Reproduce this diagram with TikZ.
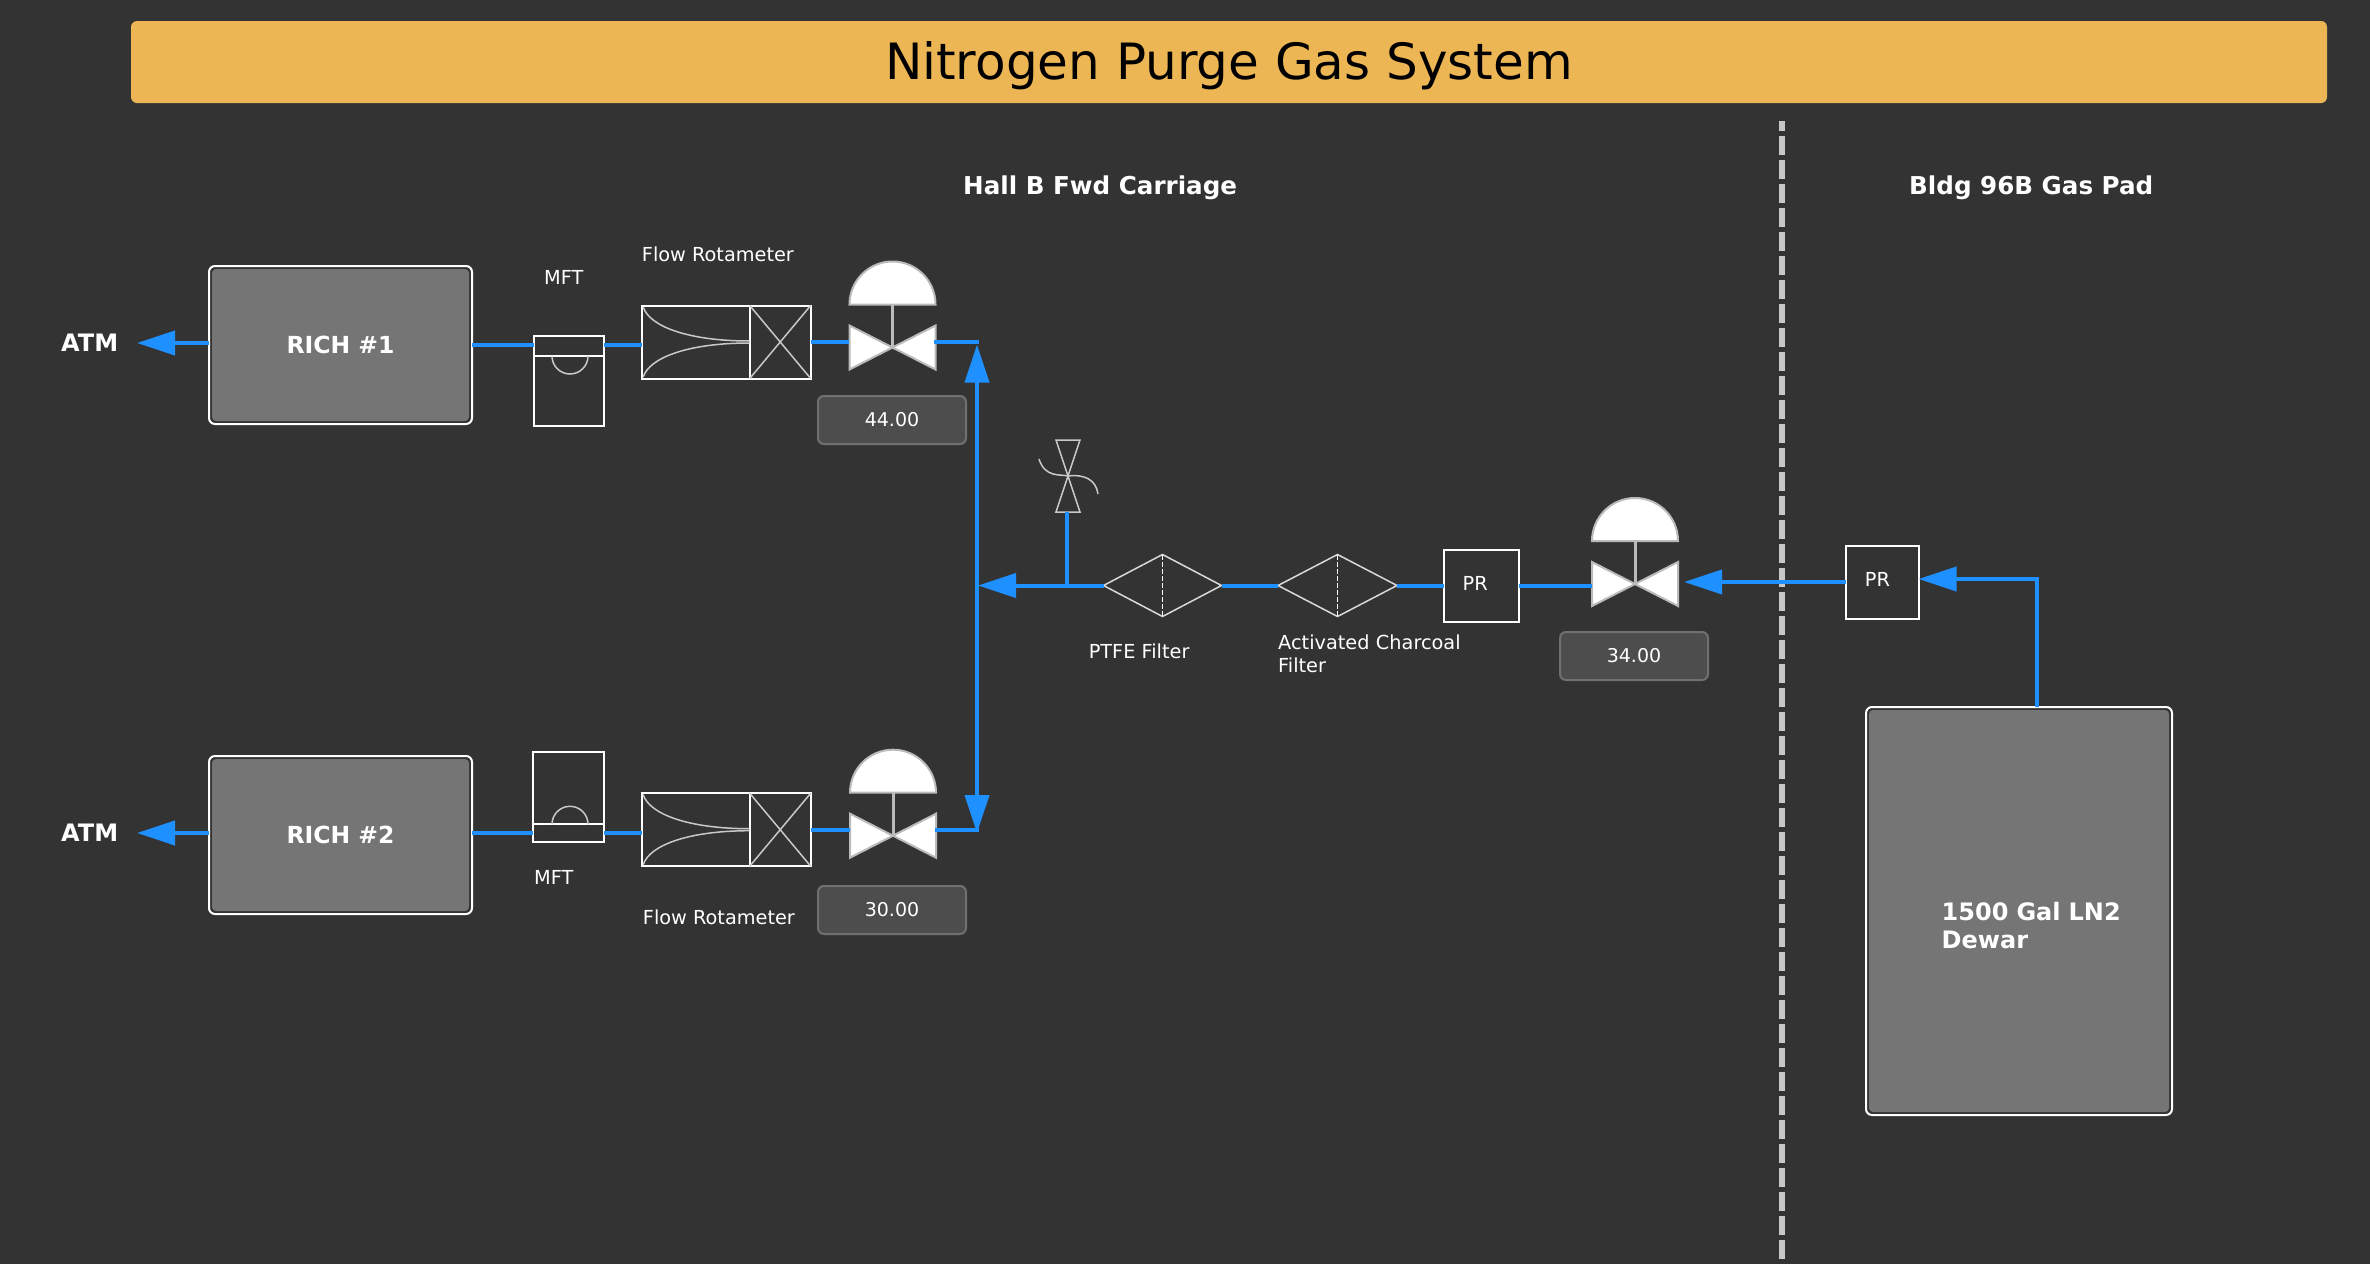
\documentclass[tikz,border=0pt]{standalone}
\usepackage{fontspec}
\setmainfont{DejaVu Sans}
\usetikzlibrary{arrows.meta,shapes.geometric}
\definecolor{panelbg}{HTML}{333333}
\definecolor{banner}{HTML}{EDB655}
\definecolor{flowblue}{HTML}{1E90FF}
\definecolor{tankgrey}{HTML}{757575}
\definecolor{readout}{HTML}{4D4D4D}
\definecolor{readedge}{HTML}{707070}
\definecolor{valveedge}{HTML}{BBBBBB}
\tikzset{
  flow/.style={draw=flowblue,line width=4pt},
  flowtip/.style={flow,-{Triangle[length=38pt,width=24pt]}},
  tank/.style={draw=white,line width=2pt,rounded corners=6pt,inner sep=0pt,outer sep=0pt},
  tankfill/.style={fill=tankgrey,rounded corners=4pt,inner sep=0pt,outer sep=0pt},
  instr/.style={draw=white,line width=2pt,inner sep=0pt,outer sep=0pt},
  thin gear/.style={draw=valveedge!80!white,line width=1.5pt},
  filter/.style={shape=diamond,draw=white!85!black,line width=1.5pt,minimum height=62pt,inner sep=0pt,outer sep=0pt},
  readbox/.style={draw=readedge,fill=readout,line width=2pt,rounded corners=6pt,minimum width=148pt,minimum height=48pt,inner sep=0pt,outer sep=0pt,text=white,font=\fontsize{19}{22}\selectfont},
  txt/.style={anchor=base west,text=white,inner sep=0pt,font=\fontsize{19.3}{23}\selectfont},
  boldtxt/.style={anchor=base west,text=white,inner sep=0pt,font=\fontsize{24.6}{28}\selectfont\bfseries},
  vbody/.style={fill=white,draw=valveedge,line width=2pt,line join=miter},
}
\begin{document}
\begin{tikzpicture}[x=1pt,y=-1pt]
  \useasboundingbox (0,0) rectangle (2370,1264);
  \fill[panelbg] (0,0) rectangle (2370,1264);
  % banner and headings
  \node (banner) [fill=banner,rounded corners=6pt,minimum width=2196pt,minimum height=82pt,inner sep=0pt,font=\fontsize{50}{60}\selectfont,text=black,text height=34pt,text depth=0pt] at (1229,62) {Nitrogen Purge Gas System};
  \node (hall) [boldtxt] at (963,194) {Hall B Fwd Carriage};
  \node (bldg) [boldtxt] at (1909,194) {Bldg 96B Gas Pad};
  \draw[draw=white!78!black,line width=6pt,dash pattern=on 19.5pt off 4.5pt,dash phase=9.5pt] (1782,121) -- (1782,1264);
  % tanks
  \foreach \n/\y in {1/345,2/835}{
    \node (richfill\n) [tankfill,minimum width=257pt,minimum height=152pt] at (340.5,\y) {};
    \node (rich\n) [tank,minimum width=263pt,minimum height=158pt,text=white,font=\fontsize{23.5}{28}\selectfont\bfseries] at (340.5,\y) {RICH \#\n};
  }
  \node (dewarfill) [tankfill,minimum width=300pt,minimum height=402pt] at (2019,911) {};
  \node (dewar) [tank,minimum width=306pt,minimum height=408pt] at (2019,911) {};
  \node (dewartxt) [boldtxt,align=left,text width=200pt,anchor=north west,font=\fontsize{24}{27.7}\selectfont\bfseries] at (1941.5,902) {1500 Gal LN2\\Dewar};
  \node (atm1) [boldtxt,font=\fontsize{24}{28}\selectfont\bfseries] at (61,351) {ATM};
  \node (atm2) [boldtxt,font=\fontsize{24}{28}\selectfont\bfseries] at (61,841) {ATM};
  % flow meters
  \node (mft1) [instr,minimum width=70.5pt,minimum height=90pt] at (568.8,381) {};
  \draw[instr] (533.5,356) -- (604,356);
  \draw[thin gear] (552,356) arc[start angle=180,end angle=360,x radius=18pt,y radius=18pt];
  \node (mft2) [instr,minimum width=71pt,minimum height=90.5pt] at (568.8,797) {};
  \draw[instr] (533.5,824.3) -- (604,824.3);
  \draw[thin gear] (552,824.3) arc[start angle=180,end angle=0,x radius=18pt,y radius=18pt];
  \foreach \n/\y in {1/342,2/829.7}{
    \begin{scope}[shift={(641.7,\y)}]
      \node (rot\n) [instr,minimum width=169pt,minimum height=73pt,anchor=west] at (0,0) {};
      \draw[instr] (108,-36.5) -- (108,36.5);
      \draw[thin gear] (108,-36.5) -- (169,36.5) (108,36.5) -- (169,-36.5);
      \draw[thin gear] (1.5,-35) .. controls (8,-15) and (48,-1) .. (108,-1);
      \draw[thin gear] (1.5,35) .. controls (8,15) and (48,1) .. (108,1);
    \end{scope}
  }
  % control valves
  \foreach \n/\x/\y/\val in {1/892.5/347.5/44.00,2/893/835.7/30.00,3/1635/584/34.00}{
    \begin{scope}[shift={(\x,\y)}]
      \node (valve\n) [minimum width=87pt,minimum height=45pt,inner sep=0pt,outer sep=0pt] at (0,0) {};
      \draw[draw=valveedge,line width=3pt] (0,0) -- (0,-44);
      \draw[vbody] (-43,-43) arc[start angle=180,end angle=0,x radius=43pt,y radius=43pt] -- cycle;
      \draw[vbody] (-43,-22) -- (0,0) -- (-43,22) -- cycle;
      \draw[vbody] (43,-22) -- (0,0) -- (43,22) -- cycle;
    \end{scope}
  }
  \node (read1) [readbox] at (892,420) {44.00};
  \node (read2) [readbox] at (892,910) {30.00};
  \node (read3) [readbox] at (1634,656) {34.00};
  % vent valve
  \node (vent) [minimum width=24pt,minimum height=72pt,inner sep=0pt,outer sep=0pt] at (1067,476) {};
  \draw[thin gear] (1056,440) -- (1080,440) -- (1056,512) -- (1080,512) -- cycle;
  \draw[thin gear] (1039,459) .. controls (1045,478) and (1060,474) .. (1068,476) .. controls (1085,474) and (1096,480) .. (1098,494);
  % filters and regulators
  \node (ptfe) [filter,minimum width=118pt] at (1162.5,585.5) {};
  \node (charcoal) [filter,minimum width=119pt] at (1337.5,585.5) {};
  \draw[draw=white,line width=1.5pt,dash pattern=on 5pt off 2pt] (ptfe.north) -- (ptfe.south);
  \draw[draw=white,line width=1.5pt,dash pattern=on 5pt off 2pt] (charcoal.north) -- (charcoal.south);
  \node (pr1) [instr,minimum width=75pt,minimum height=72pt] at (1481,585.5) {};
  \node (pr2) [instr,minimum width=73pt,minimum height=73pt] at (1882,582) {};
  % labels
  \node (prlbl1) [txt] at (1462.5,590) {PR};
  \node (prlbl2) [txt] at (1864.7,586.7) {PR};
  \node (mftlbl1) [txt] at (544,284) {MFT};
  \node (rotlbl1) [txt] at (641.7,261) {Flow Rotameter};
  \node (mftlbl2) [txt] at (534,884) {MFT};
  \node (rotlbl2) [txt] at (642.7,924) {Flow Rotameter};
  \node (ptfelbl) [txt] at (1088.6,658) {PTFE Filter};
  \node (charlbl) [txt,anchor=north west,align=left,text width=220pt] at (1278,635) {Activated Charcoal\\Filter};
  % piping
  \coordinate (rich1out) at (209,343);
  \coordinate (rich2out) at (209,833);
  \coordinate (atmtip1) at (137,343);
  \coordinate (atmtip2) at (137,833);
  \coordinate (joint) at (977,585.5);
  \draw[flowtip] (rich1out) -- (atmtip1);
  \draw[flowtip] (rich2out) -- (atmtip2);
  \draw[flow] (rich1.east) -- (mft1.west |- rich1.east);
  \draw[flow] (mft1.east |- rich1.east) -- (rot1.west |- rich1.east);
  \draw[flow] (rot1.east) -- (valve1.west |- rot1.east);
  \draw[flow] (rich2.east |- rich2out) -- (mft2.west |- rich2out);
  \draw[flow] (mft2.east |- rich2out) -- (rot2.west |- rich2out);
  \draw[flow] (rot2.east) -- (valve2.west |- rot2.east);
  \draw[flow,line cap=rect] (valve1.east |- rot1.east) -- (joint |- rot1.east);
  \draw[flow,line cap=rect] (valve2.east |- rot2.east) -- (joint |- rot2.east);
  \draw[flowtip] (joint) -- (977,344.5);
  \draw[flowtip] (joint) -- (977,833);
  \draw[flow] (ptfe.west) -- (vent.south |- ptfe.west);
  \draw[flowtip] (vent.south |- ptfe.west) -- (978,585.5);
  \draw[flow] (vent.south) -- (vent.south |- ptfe.west);
  \draw[flow] (charcoal.west) -- (ptfe.east);
  \draw[flow] (pr1.west) -- (charcoal.east);
  \draw[flow] (pr1.east) -- (pr1.east -| valve3.west);
  \draw[flowtip] (pr2.west) -- (pr2.west -| 1684,0);
  \coordinate (elbow) at (2037,579);
  \draw[flowtip] (dewar.north -| elbow) -- (elbow) -- (pr2.east |- elbow);
\end{tikzpicture}
\end{document}
